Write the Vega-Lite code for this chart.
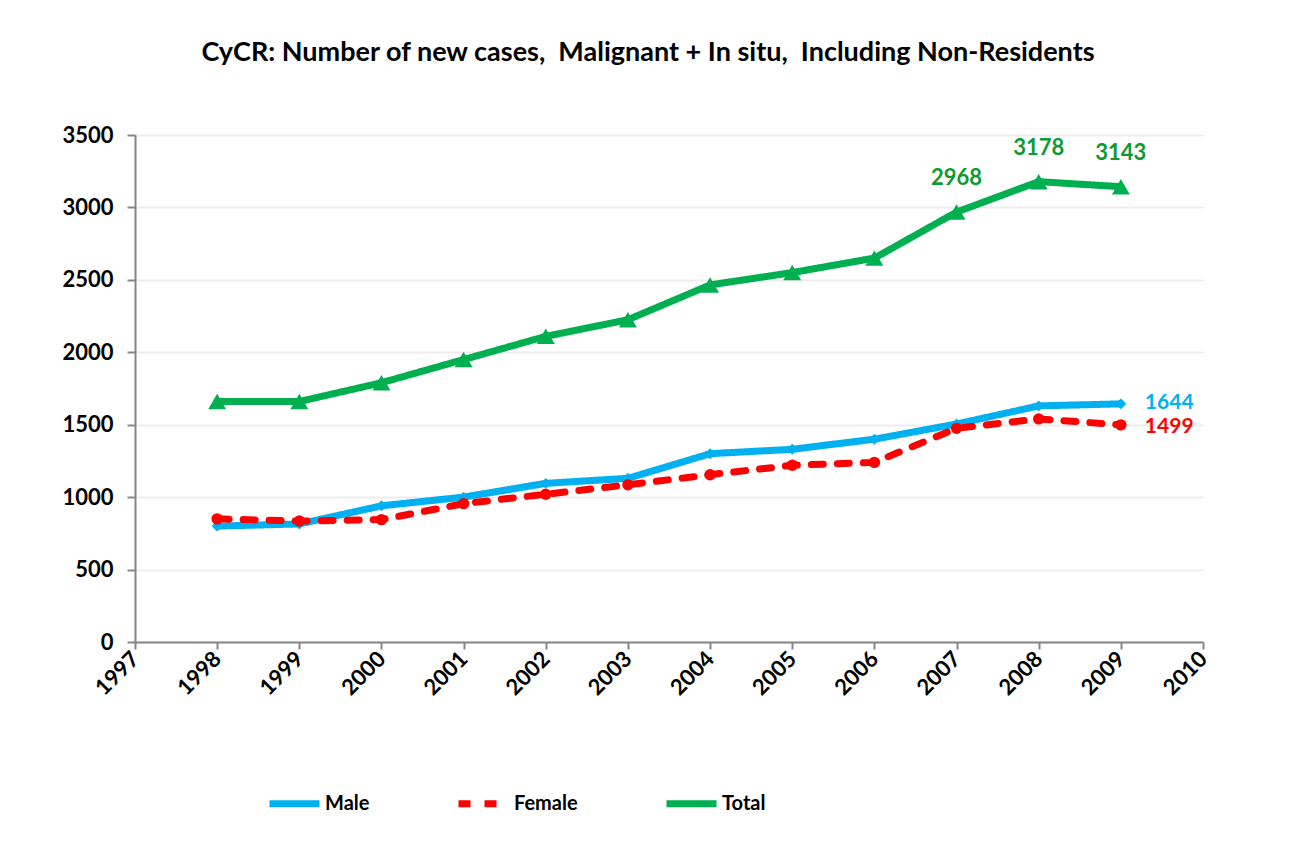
{
  "$schema": "https://vega.github.io/schema/vega-lite/v6.json",
  "width": 1068,
  "height": 507,
  "autosize": {"type": "none"},
  "padding": {"left": 135, "top": 135, "right": 88, "bottom": 219},
  "background": "white",
  "config": {
    "font": "Lato",
    "view": {"stroke": null},
    "axis": {"domainColor": "#868686", "tickColor": "#868686", "domainWidth": 2, "tickWidth": 2, "labelFont": "Lato", "labelFontWeight": "bold", "labelFontSize": 22, "labelColor": "black", "titleFontSize": 0}
  },
  "title": {
    "text": "CyCR: Number of new cases,\u00a0 Malignant + In situ,\u00a0 Including Non-Residents",
    "font": "Lato",
    "fontSize": 27,
    "fontWeight": "bold",
    "color": "black",
    "anchor": "middle",
    "dx": -21,
    "offset": 57
  },
  "data": {
    "values": [
      {"year": 1998, "series": "Male", "value": 800},
      {"year": 1999, "series": "Male", "value": 815},
      {"year": 2000, "series": "Male", "value": 940},
      {"year": 2001, "series": "Male", "value": 1000},
      {"year": 2002, "series": "Male", "value": 1095},
      {"year": 2003, "series": "Male", "value": 1130},
      {"year": 2004, "series": "Male", "value": 1300},
      {"year": 2005, "series": "Male", "value": 1330},
      {"year": 2006, "series": "Male", "value": 1400},
      {"year": 2007, "series": "Male", "value": 1505},
      {"year": 2008, "series": "Male", "value": 1630},
      {"year": 2009, "series": "Male", "value": 1644},
      {"year": 1998, "series": "Female", "value": 850},
      {"year": 1999, "series": "Female", "value": 835},
      {"year": 2000, "series": "Female", "value": 845},
      {"year": 2001, "series": "Female", "value": 955},
      {"year": 2002, "series": "Female", "value": 1020},
      {"year": 2003, "series": "Female", "value": 1085},
      {"year": 2004, "series": "Female", "value": 1155},
      {"year": 2005, "series": "Female", "value": 1220},
      {"year": 2006, "series": "Female", "value": 1240},
      {"year": 2007, "series": "Female", "value": 1475},
      {"year": 2008, "series": "Female", "value": 1540},
      {"year": 2009, "series": "Female", "value": 1499},
      {"year": 1998, "series": "Total", "value": 1660},
      {"year": 1999, "series": "Total", "value": 1660},
      {"year": 2000, "series": "Total", "value": 1790},
      {"year": 2001, "series": "Total", "value": 1950},
      {"year": 2002, "series": "Total", "value": 2110},
      {"year": 2003, "series": "Total", "value": 2225},
      {"year": 2004, "series": "Total", "value": 2465},
      {"year": 2005, "series": "Total", "value": 2550},
      {"year": 2006, "series": "Total", "value": 2650},
      {"year": 2007, "series": "Total", "value": 2968},
      {"year": 2008, "series": "Total", "value": 3178},
      {"year": 2009, "series": "Total", "value": 3143}
    ]
  },
  "encoding": {
    "x": {
      "field": "year", "type": "quantitative",
      "scale": {"domain": [1997, 2010], "nice": false, "zero": false},
      "axis": {"values": [1997,1998,1999,2000,2001,2002,2003,2004,2005,2006,2007,2008,2009,2010], "format": "d", "labelAngle": -45, "labelAlign": "right", "labelBaseline": "middle", "grid": false, "tickSize": 7, "labelPadding": 6, "title": null}
    },
    "y": {
      "field": "value", "type": "quantitative",
      "scale": {"domain": [0, 3500], "nice": false},
      "axis": {"values": [0,500,1000,1500,2000,2500,3000,3500], "format": "d", "grid": true, "gridColor": "#EDEDED", "gridWidth": 2, "tickSize": 8, "labelPadding": 14, "title": null}
    }
  },
  "layer": [
    {
      "mark": {"type": "line", "strokeWidth": 7, "strokeCap": "round", "strokeJoin": "round"},
      "encoding": {
        "color": {
          "field": "series", "type": "nominal",
          "scale": {"domain": ["Male", "Female", "Total"], "range": ["#00B0F0", "#FF0000", "#00B050"]},
          "legend": {
            "orient": "none", "legendX": 131, "legendY": 640, "direction": "horizontal", "title": null,
            "symbolType": "stroke", "symbolSize": 2500, "symbolStrokeWidth": 7,
            "labelFontSize": 20, "labelFont": "Lato", "labelFontWeight": "bold", "labelColor": "black",
            "columnPadding": 74, "labelOffset": 2
          }
        },
        "strokeDash": {
          "field": "series", "type": "nominal",
          "scale": {"domain": ["Male", "Female", "Total"], "range": [[1, 0], [12, 14], [1, 0]]}
        }
      }
    },
    {
      "transform": [{"filter": "datum.series == 'Male'"}],
      "mark": {"type": "point", "filled": true, "opacity": 1, "strokeWidth": 0, "shape": "diamond", "size": 120, "color": "#00B0F0"}
    },
    {
      "transform": [{"filter": "datum.series == 'Female'"}],
      "mark": {"type": "point", "filled": true, "opacity": 1, "strokeWidth": 0, "shape": "circle", "size": 130, "color": "#FF0000"}
    },
    {
      "transform": [{"filter": "datum.series == 'Total'"}],
      "mark": {"type": "point", "filled": true, "opacity": 1, "strokeWidth": 0, "shape": "triangle-up", "size": 320, "color": "#00B050"}
    },
    {
      "transform": [{"filter": "datum.series == 'Total' && datum.year >= 2007"}],
      "mark": {"type": "text", "dy": -34, "fontSize": 22, "fontWeight": "bold", "font": "Lato", "color": "#0E9A32"},
      "encoding": {"text": {"field": "value", "type": "quantitative", "format": "d"}}
    },
    {
      "transform": [{"filter": "datum.series == 'Male' && datum.year == 2009"}],
      "mark": {"type": "text", "dx": 24, "dy": -1, "align": "left", "baseline": "middle", "fontSize": 21, "fontWeight": "bold", "font": "Lato", "color": "#00B0F0"},
      "encoding": {"text": {"field": "value", "type": "quantitative", "format": "d"}}
    },
    {
      "transform": [{"filter": "datum.series == 'Female' && datum.year == 2009"}],
      "mark": {"type": "text", "dx": 24, "dy": 2, "align": "left", "baseline": "middle", "fontSize": 21, "fontWeight": "bold", "font": "Lato", "color": "#FF0000"},
      "encoding": {"text": {"field": "value", "type": "quantitative", "format": "d"}}
    }
  ]
}
